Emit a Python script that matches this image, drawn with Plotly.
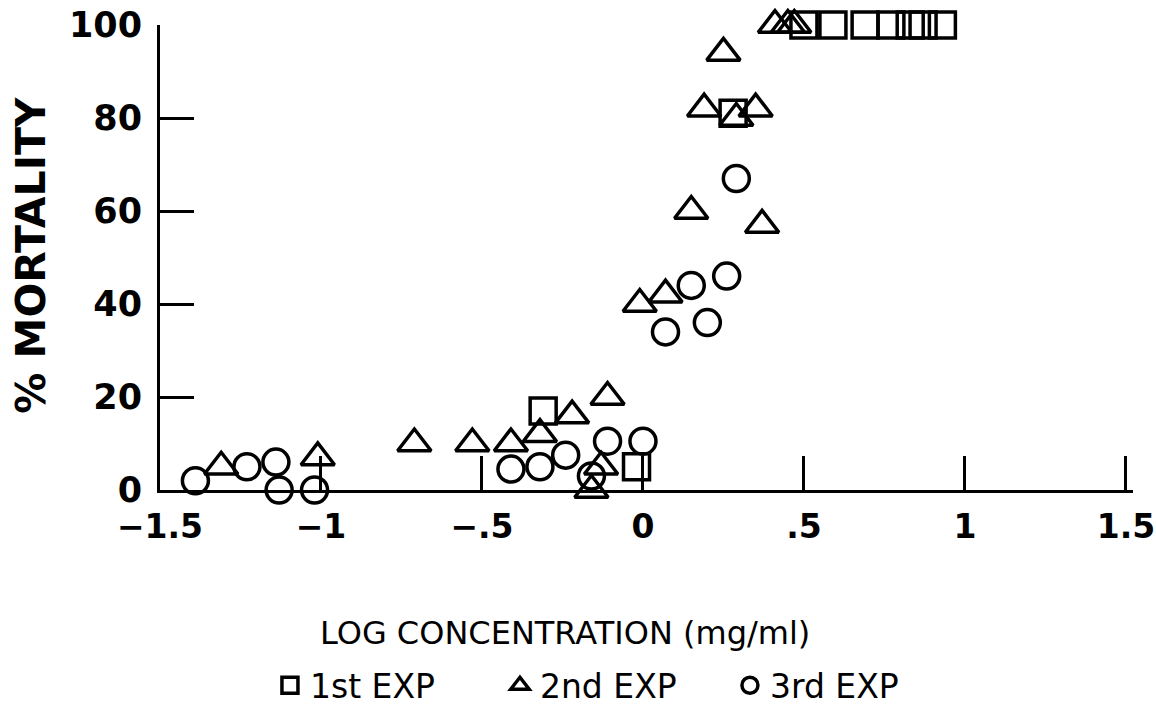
import plotly.graph_objects as go

# Mortality vs. log concentration for three replicate experiments
exp1_x = [-0.31, -0.02, 0.28, 0.50, 0.59, 0.69, 0.77, 0.83, 0.87, 0.93]
exp1_y = [17, 5, 81, 100, 100, 100, 100, 100, 100, 100]

exp2_x = [-1.31, -1.01, -0.71, -0.53, -0.41, -0.32, -0.22, -0.16, -0.13, -0.11,
          -0.01, 0.07, 0.15, 0.19, 0.25, 0.29, 0.35, 0.37, 0.41, 0.45, 0.47]
exp2_y = [5, 7, 10, 10, 10, 12, 16, 0, 5, 20,
          40, 42, 60, 82, 94, 80, 82, 57, 100, 100, 100]

exp3_x = [-1.39, -1.23, -1.14, -1.13, -1.02, -0.41, -0.32, -0.24, -0.16, -0.11,
          0.00, 0.07, 0.15, 0.20, 0.26, 0.29]
exp3_y = [2, 5, 6, 0, 0, 4.5, 5, 7.5, 3, 10.5,
          10.5, 34, 44, 36, 46, 67]

x_ticks = [-1.5, -1, -0.5, 0, 0.5, 1, 1.5]
x_tick_text = ["\u22121.5", "\u22121", "\u2212.5", "0", ".5", "1", "1.5"]
y_ticks = [0, 20, 40, 60, 80, 100]

series_names = ["1st EXP", "2nd EXP", "3rd EXP"]

FONT = "DejaVu Sans"
INK = "black"
X_RANGE = [-1.5, 1.522]

fig = go.Figure()

def add_series(xs, ys, name, symbol, size):
    fig.add_trace(go.Scatter(
        x=xs, y=ys, mode="markers", name=name,
        cliponaxis=False,
        marker=dict(symbol=symbol, size=size, color=INK,
                    line=dict(color=INK, width=3.5)),
    ))

add_series(exp1_x, exp1_y, series_names[0], "square-open", 26)
add_series(exp2_x, exp2_y, series_names[1], "triangle-up-open", 29)
add_series(exp3_x, exp3_y, series_names[2], "circle-open", 26)

fig.update_layout(
    width=1156, height=708,
    margin=dict(l=160, r=23, t=25, b=218, autoexpand=False),
    paper_bgcolor="white", plot_bgcolor="white",
    font=dict(family=FONT, color=INK),
    showlegend=True,
    legend=dict(
        orientation="h", x=0.113, y=-0.42, xanchor="left", yanchor="middle",
        font=dict(family=FONT, size=33, color=INK),
        entrywidth=185, itemsizing="trace",
        bgcolor="rgba(0,0,0,0)",
    ),
    xaxis=dict(
        range=X_RANGE, tickvals=x_ticks, ticktext=x_tick_text,
        showline=True, linecolor=INK, linewidth=3,
        ticks="inside", ticklen=34, tickwidth=3, tickcolor=INK,
        ticklabelstandoff=5, ticklabeloverflow="allow",
        tickfont=dict(family=FONT, size=33, color=INK, weight="bold"),
        showgrid=False, zeroline=False,
    ),
    yaxis=dict(
        range=[0, 100], tickvals=y_ticks,
        showline=True, linecolor=INK, linewidth=3,
        ticks="inside", ticklen=34, tickwidth=3, tickcolor=INK,
        ticklabelstandoff=8,
        tickfont=dict(family=FONT, size=35, color=INK, weight="bold"),
        showgrid=False, zeroline=False,
    ),
    annotations=[
        dict(text="LOG CONCENTRATION (mg/ml)", xref="paper", yref="paper",
             x=0.4165, y=-0.3075, xanchor="center", yanchor="middle",
             showarrow=False, font=dict(family=FONT, size=32, color=INK)),
        dict(text="% MORTALITY", xref="paper", yref="paper",
             x=-0.132, y=0.505, xanchor="center", yanchor="middle",
             textangle=-90, showarrow=False,
             font=dict(family=FONT, size=41, color=INK, weight="bold")),
    ],
)

fig.write_html("out.html")
